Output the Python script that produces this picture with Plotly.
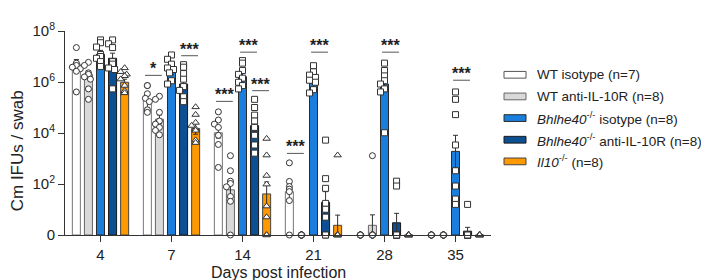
import plotly.graph_objects as go

# ---------------- data (log10 IFUs / swab; 0 = none detected) ----------------
days = [4, 7, 14, 21, 28, 35]

group_labels = [
    "WT isotype (n=7)",
    "WT anti-IL-10R (n=8)",
    "<i>Bhlhe40</i><sup>-/-</sup> isotype (n=8)",
    "<i>Bhlhe40</i><sup>-/-</sup> anti-IL-10R (n=8)",
    "<i>Il10</i><sup>-/-</sup> (n=8)",
]

wt_iso_mean = [6.70, 5.27, 4.01, 1.70, 0.00, 0.00]
wt_anti_mean = [6.30, 4.54, 1.77, 0.00, 0.38, 0.00]
bh_iso_mean = [7.09, 6.42, 6.21, 5.95, 5.92, 3.28]
bh_anti_mean = [6.93, 5.92, 4.29, 1.28, 0.48, 0.15]
il10_mean = [5.99, 4.18, 1.61, 0.38, 0.00, 0.00]

wt_iso_sem = [0.18, 0.27, 0.21, 0.32, 0.00, 0.00]
wt_anti_sem = [0.15, 0.17, 0.31, 0.00, 0.41, 0.00]
bh_iso_sem = [0.15, 0.12, 0.14, 0.13, 0.30, 0.63]
bh_anti_sem = [0.20, 0.19, 0.25, 0.42, 0.37, 0.15]
il10_sem = [0.12, 0.23, 0.47, 0.40, 0.00, 0.00]

wt_iso_pts = [
    [7.35, 6.74, 6.65, 6.58, 6.52, 6.42, 5.61],
    [5.86, 5.86, 5.54, 5.36, 5.23, 4.91, 4.81],
    [4.83, 4.51, 4.35, 4.22, 3.91, 3.55, 2.65],
    [2.83, 2.10, 1.90, 1.80, 1.70, 1.35, 0.0],
    [0, 0, 0, 0, 0, 0, 0],
    [0, 0, 0, 0, 0, 0, 0],
]
wt_anti_pts = [
    [6.77, 6.65, 6.36, 6.30, 6.20, 6.11, 5.73, 5.32],
    [5.44, 5.32, 4.81, 4.47, 4.35, 4.22, 4.10, 3.93],
    [3.11, 2.52, 2.11, 2.02, 1.89, 1.51, 1.32, 0.0],
    [0, 0, 0, 0, 0, 0, 0, 0],
    [3.11, 0, 0, 0, 0, 0, 0, 0],
    [0, 0, 0, 0, 0, 0, 0, 0],
]
bh_iso_pts = [
    [7.65, 7.54, 7.37, 7.08, 7.00, 6.93, 6.80, 6.61],
    [7.06, 6.89, 6.70, 6.55, 6.49, 6.36, 6.05, 5.92],
    [6.84, 6.74, 6.45, 6.30, 6.15, 5.99, 5.86, 5.73],
    [6.64, 6.40, 6.27, 6.18, 6.07, 5.99, 5.70, 5.57],
    [6.74, 6.45, 6.24, 6.05, 5.92, 5.73, 5.61, 4.01],
    [5.61, 5.32, 4.72, 3.53, 2.52, 1.92, 1.41, 1.20],
]
bh_anti_pts = [
    [7.65, 7.50, 7.35, 6.80, 6.70, 6.55, 6.49, 5.73],
    [6.68, 6.58, 6.33, 6.11, 5.82, 5.67, 5.42, 5.23],
    [5.32, 5.00, 4.70, 4.47, 4.22, 3.91, 3.53, 3.21],
    [3.72, 2.21, 1.83, 1.24, 1.01, 0.70, 0, 0],
    [2.11, 1.92, 0, 0, 0, 0, 0, 0],
    [1.20, 0, 0, 0, 0, 0, 0, 0],
]
il10_pts = [
    [6.55, 6.40, 6.30, 6.24, 6.11, 5.86, 5.65, 5.57],
    [5.02, 4.72, 4.41, 4.29, 4.16, 4.10, 3.72, 3.62],
    [3.78, 3.13, 2.33, 1.99, 1.13, 0.70, 0, 0],
    [3.13, 0, 0, 0, 0, 0, 0, 0],
    [0, 0, 0, 0, 0, 0, 0, 0],
    [0, 0, 0, 0, 0, 0, 0, 0],
]

# significance: (day index, left bar, label, line level in log10 units)
sig_day = [0, 1, 1, 2, 2, 2, 3, 3, 4, 5]
sig_left = [3, 0, 3, 0, 2, 3, 0, 2, 2, 2]
sig_text = ["**", "*", "***", "***", "***", "***", "***", "***", "***", "***"]
sig_level = [8.01, 6.26, 7.03, 5.24, 7.17, 5.66, 3.20, 7.17, 7.17, 6.07]

y_tickvals = [0, 2, 4, 6, 8]
y_ticktext = ["0", "10<sup>2</sup>", "10<sup>4</sup>", "10<sup>6</sup>", "10<sup>8</sup>"]

# ---------------- styling ----------------
W, H = 709, 280
ML, MR, MT, MB = 57, 226, 15, 53
PW, PH = W - ML - MR, H - MT - MB
PX_X = PW / 6.0
PX_Y = PH / 8.0
FONT = "Liberation Sans, Arial, sans-serif"
INK = "#333333"

means = [wt_iso_mean, wt_anti_mean, bh_iso_mean, bh_anti_mean, il10_mean]
sems = [wt_iso_sem, wt_anti_sem, bh_iso_sem, bh_anti_sem, il10_sem]
points = [wt_iso_pts, wt_anti_pts, bh_iso_pts, bh_anti_pts, il10_pts]
fills = ["#ffffff", "#d9d9d9", "#1a7fdc", "#0c4f92", "#ff9900"]
edges = ["#777777", "#666666", "#2a2a2a", "#1a1a1a", "#444444"]
symbols = ["circle", "circle", "square", "square", "triangle-up"]
msizes = [6, 6, 6, 6, 6.5]
offsets = [-0.34, -0.17, 0.0, 0.17, 0.34]
bar_w = 0.113


def spread(vals, r=5.0, step=2.0):
    placed, out = [], []
    for v in vals:
        y = v * PX_Y
        best, bestc = 0.0, None
        for k in [0, -1, 1, -2, 2]:
            dx = k * step
            c = sum(1 for (px, py) in placed if (px - dx) ** 2 + (py - y) ** 2 < r * r)
            if c == 0:
                best = dx
                break
            if bestc is None or c < bestc:
                bestc, best = c, dx
        placed.append((best, y))
        out.append(best / PX_X)
    return out


fig = go.Figure()

for g in range(5):
    xs = [i + offsets[g] for i in range(len(days))]
    fig.add_trace(go.Bar(
        x=xs, y=means[g], width=bar_w, base=0,
        marker=dict(color=fills[g], line=dict(color=edges[g], width=1)),
        error_y=dict(type="data", symmetric=False, array=sems[g],
                     arrayminus=[min(s, m) for s, m in zip(sems[g], means[g])],
                     color=INK, thickness=1, width=2.5),
        showlegend=False, hoverinfo="skip",
    ))

for g in range(5):
    px, py = [], []
    for i in range(len(days)):
        vals = points[g][i]
        dx = spread(vals)
        for v, d in zip(vals, dx):
            px.append(i + offsets[g] + d)
            py.append(v)
    fig.add_trace(go.Scatter(
        x=px, y=py, mode="markers", cliponaxis=False,
        marker=dict(symbol=symbols[g], size=msizes[g], color="white",
                    line=dict(color=INK, width=1)),
        showlegend=False, hoverinfo="skip",
    ))

# significance bars and stars
sx = [sig_day[k] + (offsets[sig_left[k]] + offsets[sig_left[k] + 1]) / 2 for k in range(len(sig_day))]
fig.add_trace(go.Scatter(
    x=sx, y=sig_level, mode="markers", cliponaxis=False,
    marker=dict(symbol="line-ew", size=12, color="#555555", line=dict(color="#555555", width=1)),
    showlegend=False, hoverinfo="skip",
))
for k in range(len(sig_day)):
    fig.add_annotation(x=sx[k], y=sig_level[k], xref="x", yref="y", text="<b>%s</b>" % sig_text[k],
                       showarrow=False, yanchor="bottom", xanchor="center", yshift=-4,
                       font=dict(family=FONT, size=16, color="#222222"))


def pxx(p):
    return (p - ML) / PW


def pxy(p):
    return (MT + PH - p) / PH


# legend (drawn manually to mimic wide flat swatches)
leg_y = [60.5, 83, 105.5, 128, 150.5]
for g in range(5):
    fig.add_shape(type="rect", xref="paper", yref="paper",
                  x0=pxx(496), x1=pxx(518), y0=pxy(leg_y[g] + 3.5), y1=pxy(leg_y[g] - 3.5),
                  fillcolor=fills[g], line=dict(color=edges[g] if g > 0 else "#555555", width=1))
    fig.add_annotation(x=pxx(527), y=pxy(leg_y[g]), xref="paper", yref="paper",
                       text=group_labels[g], showarrow=False, xanchor="left", yanchor="middle",
                       font=dict(family=FONT, size=13.5, color="#222222"))

# axis titles
fig.add_annotation(x=pxx(9), y=pxy(140), xref="paper", yref="paper", text="Cm IFUs / swab",
                   textangle=-90, showarrow=False, xanchor="center", yanchor="middle",
                   font=dict(family=FONT, size=17, color="#222222"))
fig.add_annotation(x=pxx(270), y=pxy(266), xref="paper", yref="paper", text="Days post infection",
                   showarrow=False, xanchor="center", yanchor="middle",
                   font=dict(family=FONT, size=16, color="#222222"))

fig.update_layout(
    width=W, height=H, margin=dict(l=ML, r=MR, t=MT, b=MB, pad=0),
    paper_bgcolor="white", plot_bgcolor="white", barmode="overlay",
    font=dict(family=FONT, size=15, color="#222222"),
    xaxis=dict(range=[-0.5, 5.5], tickvals=list(range(len(days))), ticktext=[str(d) for d in days],
               showline=True, linecolor=INK, linewidth=1, ticks="outside", ticklen=6,
               tickcolor=INK, showgrid=False, zeroline=False, fixedrange=True,
               tickfont=dict(family=FONT, size=15)),
    yaxis=dict(range=[0, 8], tickvals=y_tickvals, ticktext=y_ticktext,
               showline=True, linecolor=INK, linewidth=1, ticks="outside", ticklen=6,
               tickcolor=INK, showgrid=False, zeroline=False, fixedrange=True,
               tickfont=dict(family=FONT, size=15)),
)

fig.write_html("out.html")
